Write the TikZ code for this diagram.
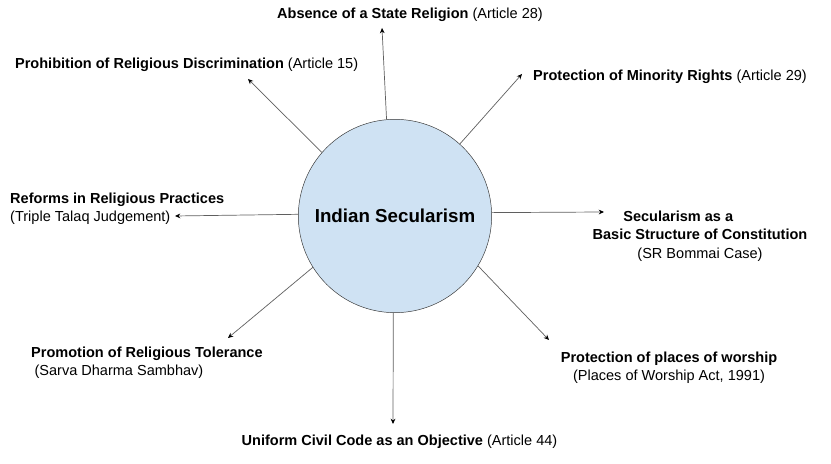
\documentclass[tikz,border=0pt]{standalone}
\usepackage{fontspec}
\setmainfont{Liberation Sans}
\usetikzlibrary{arrows.meta,positioning}
\definecolor{secblue}{RGB}{207,226,243}
\definecolor{secline}{RGB}{50,50,50}
\definecolor{arrgray}{RGB}{95,95,95}
\tikzset{
  hub/.style    = {circle,draw=secline,fill=secblue,minimum size=5.8cm,
                   inner sep=0pt,font=\fontsize{16}{19}\selectfont\bfseries},
  lbl/.style    = {inner sep=0pt,font=\fontsize{12.4}{15.6}\selectfont},
  arrow/.style  = {-{Stealth[length=4.5pt,width=4pt,black]},semithick,color=arrgray},
}
\begin{document}
\begin{tikzpicture}
  \useasboundingbox (0,0) rectangle (24.93,13.92);
  \node[hub] (sec) at (11.85,7.44) {Indian Secularism};

  % labels round the hub
  \node[lbl] (art28) at (12.3,13.47) {\textbf{Absence of a State Religion} (Article 28)};
  \node[lbl] (art15) at (5.6,11.97) {\textbf{Prohibition of Religious Discrimination} (Article 15)};
  \node[lbl] (art29) at (20.1,11.61) {\textbf{Protection of Minority Rights} (Article 29)};
  \node[lbl,align=left,anchor=west] (talaq) at (0.3,7.665)
    {\textbf{Reforms in Religious Practices}\\ (Triple Talaq Judgement)};
  \node[lbl,align=center] (bommai) at (21.0,6.84)
    {\textbf{Secularism as a}\hspace*{1.3cm}\\ \textbf{Basic Structure of Constitution}\\ (SR Bommai Case)};
  \node[lbl,align=left,anchor=west] (sarva) at (0.93,3.03)
    {\textbf{Promotion of Religious Tolerance}\\ \hspace*{0.1cm}(Sarva Dharma Sambhav)};
  \node[lbl,align=center] (worship) at (20.07,2.88)
    {\textbf{Protection of places of worship}\\ (Places of Worship Act, 1991)};
  \node[lbl] (art44) at (11.985,0.66) {\textbf{Uniform Civil Code as an Objective} (Article 44)};

  % arrow ends
  \coordinate (e28) at (11.46,13.08);
  \coordinate (e29) at (15.66,11.70);
  \coordinate (ebo) at (18.12,7.56);
  \coordinate (ewo) at (16.47,3.72);
  \coordinate (e44) at (11.79,1.20);
  \coordinate (esa) at (6.84,3.78);
  \coordinate (eta) at (5.25,7.44);
  \coordinate (e15) at (7.44,11.55);

  \foreach \ang/\tgt in {95/e28,48/e29,2/ebo,-31/ewo,-91/e44,212/esa,179/eta,139/e15}
    \draw[arrow] (sec.\ang) -- (\tgt);
\end{tikzpicture}
\end{document}
